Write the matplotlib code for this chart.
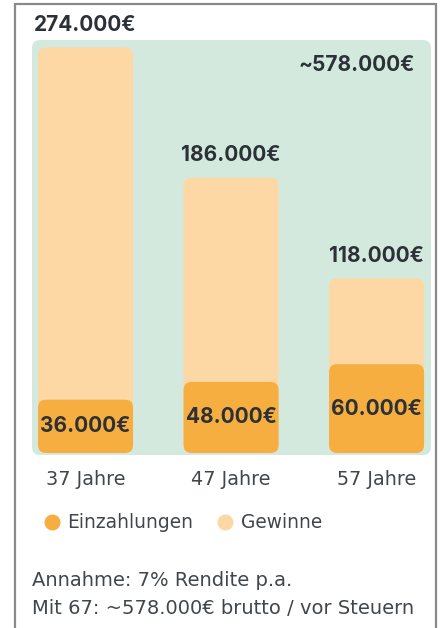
import numpy as np
import matplotlib.pyplot as plt
from matplotlib.patches import FancyBboxPatch, Rectangle
from matplotlib.lines import Line2D

ages = ['37 Jahre', '47 Jahre', '57 Jahre']
einzahlungen = [36, 48, 60]        # in 1000 EUR
gewinne = [238, 138, 58]           # in 1000 EUR
total_label = '~578.000€'
legend_labels = ['Einzahlungen', 'Gewinne']
fmt = lambda v: f'{v}.000€'

W, H = 448, 628
TEXT = '#2b3136'
GRAY = '#41464b'
GREEN = '#d4e9de'
LIGHT = '#fdd8a4'
ORANGE = '#f6ae40'

plt.rcParams['font.family'] = ['Inter', 'DejaVu Sans']
REG = 'DejaVu Sans'

def fx(x):
    return x / W

def fy(y):
    return 1 - y / H

fig = plt.figure(figsize=(W / 100, H / 100), dpi=100)
fig.patch.set_facecolor('white')

# frame
fig.add_artist(Rectangle((fx(15), fy(660)), fx(436) - fx(15), fy(4) - fy(660),
                         transform=fig.transFigure, fill=False, edgecolor='#8a8a8a', lw=1.6,
                         zorder=-2))
# green panel
fig.add_artist(FancyBboxPatch((fx(32), fy(455)), fx(431) - fx(32), fy(40) - fy(455),
                              boxstyle='round,pad=0,rounding_size=0.018', mutation_aspect=W / H,
                              transform=fig.transFigure, facecolor=GREEN, edgecolor='none',
                              zorder=-1))

ax = fig.add_axes([fx(32), fy(455), fx(431) - fx(32), fy(40) - fy(455)])
ax.patch.set_alpha(0)
for s in ax.spines.values():
    s.set_visible(False)

x = np.arange(len(ages))
ein = np.array(einzahlungen)
tot = ein + np.array(gewinne)
ax.set_xlim(-0.368, 2.374)
ax.set_ylim(-1.35, 279)

bars_tot = ax.bar(x, tot, width=0.653, color=LIGHT)
bars_ein = ax.bar(x, ein, width=0.653, color=ORANGE)

# turn plain bars into rounded ones
bb = ax.get_window_extent()
xpp = (ax.get_xlim()[1] - ax.get_xlim()[0]) / bb.width
ypp = (ax.get_ylim()[1] - ax.get_ylim()[0]) / bb.height
for bars in (bars_tot, bars_ein):
    for r in bars:
        r.set_visible(False)
        ax.add_patch(FancyBboxPatch((r.get_x(), r.get_y()), r.get_width(), r.get_height(),
                                    boxstyle=f'round,pad=0,rounding_size={8 * xpp}',
                                    mutation_aspect=ypp / xpp,
                                    facecolor=r.get_facecolor(), edgecolor='none', zorder=2))

for i in range(len(x)):
    ax.annotate(fmt(tot[i]), (x[i], tot[i]), xytext=(0, 16), textcoords='offset points',
                ha='center', va='center', fontsize=15, fontweight='bold', color=TEXT,
                annotation_clip=False)
    ax.text(x[i], ein[i] / 2, fmt(ein[i]), ha='center', va='center', fontsize=15,
            fontweight='bold', color=TEXT, zorder=3)

fig.text(fx(415), fy(65), total_label, ha='right', va='center', fontsize=15,
         fontweight='bold', color=TEXT)

ax.set_yticks([])
ax.set_xticks(x)
ax.set_xticklabels(ages, fontsize=13.8, color=GRAY, family=REG)
ax.tick_params(axis='x', length=0, pad=11)

# legend
for px_dot, px_txt, col, lab in [(52, 67, ORANGE, legend_labels[0]), (225, 241, LIGHT, legend_labels[1])]:
    fig.add_artist(Line2D([fx(px_dot)], [fy(522)], marker='o', ls='none', color=col,
                          markersize=10.5, transform=fig.transFigure))
    fig.text(fx(px_txt), fy(522), lab, ha='left', va='center', fontsize=13.4,
             color=GRAY, family=REG)

fig.text(fx(32), fy(581), 'Annahme: 7% Rendite p.a.', ha='left', va='center',
         fontsize=14, color=GRAY, family=REG)
fig.text(fx(32), fy(608), 'Mit 67: ~578.000€ brutto / vor Steuern', ha='left', va='center',
         fontsize=14, color=GRAY, family=REG)

fig.savefig('out.png', dpi=100)
